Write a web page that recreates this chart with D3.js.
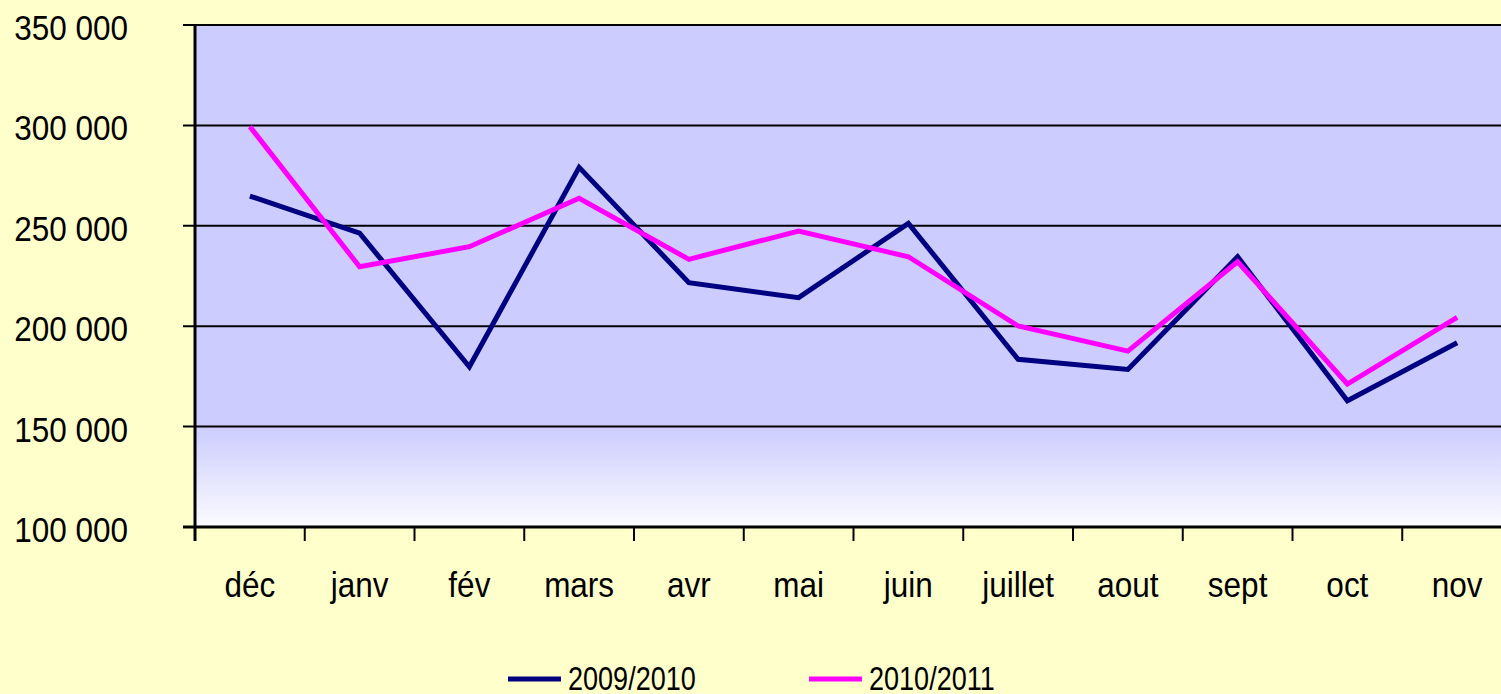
<!DOCTYPE html>
<html>
<head>
<meta charset="utf-8">
<script src="https://cdn.jsdelivr.net/npm/d3@7"></script>
<style>
  html, body { margin: 0; padding: 0; background: #ffffcc; overflow: hidden; }
  svg text { font-family: "Liberation Sans", Arial, sans-serif; fill: #000; }
</style>
</head>
<body>
<div id="chart"></div>
<script>
var months = ["déc", "janv", "fév", "mars", "avr", "mai", "juin", "juillet", "aout", "sept", "oct", "nov"];
var serie2009 = [264800, 246300, 179800, 279100, 221700, 214200, 251200, 183500, 178500, 234600, 162900, 191800];
var serie2010 = [299400, 229600, 239600, 263700, 233300, 247400, 234600, 200100, 187600, 232100, 171200, 204400];
var seriesNames = ["2009/2010", "2010/2011"];
var yTicks = [100000, 150000, 200000, 250000, 300000, 350000];

var width = 1501,
    height = 694;
var plotLeft = 195, plotTop = 25, plotBottom = 527, plotRight = 1512;

var svg = d3.select("#chart").append("svg")
    .attr("width", width)
    .attr("height", height);

var x = d3.scaleBand().domain(months).range([plotLeft, plotRight]);
var y = d3.scaleLinear().domain([100000, 350000]).range([plotBottom, plotTop]);

// degradé du fond
var grad = svg.append("defs").append("linearGradient")
    .attr("id", "fond")
    .attr("x1", 0).attr("y1", 0).attr("x2", 0).attr("y2", 1);
grad.append("stop").attr("offset", 0).attr("stop-color", "#ccccff");
grad.append("stop").attr("offset", 0.8).attr("stop-color", "#ccccff");
grad.append("stop").attr("offset", 1).attr("stop-color", "#fbfbff");

svg.append("rect")
    .attr("x", plotLeft).attr("y", plotTop)
    .attr("width", plotRight - plotLeft).attr("height", plotBottom - plotTop)
    .style("fill", "url(#fond)");

// grille
svg.append("g").selectAll("line")
    .data(yTicks)
    .enter().append("line")
    .attr("x1", plotLeft - 12).attr("x2", plotRight)
    .attr("y1", d => y(d)).attr("y2", d => y(d))
    .style("stroke", "#000")
    .style("stroke-width", 2);

var fmt = d => d3.format(",")(d).replace(/,/g, " ");

svg.append("g").selectAll("text")
    .data(yTicks)
    .enter().append("text")
    .attr("transform", d => "translate(128," + (y(d) + 15) + ") scale(0.9,1)")
    .attr("text-anchor", "end")
    .attr("font-size", 35)
    .text(fmt);

// axes
svg.append("line")
    .attr("x1", plotLeft).attr("x2", plotLeft)
    .attr("y1", plotTop).attr("y2", plotBottom + 14)
    .style("stroke", "#000").style("stroke-width", 3);
svg.append("line")
    .attr("x1", plotLeft - 12).attr("x2", plotRight)
    .attr("y1", plotBottom).attr("y2", plotBottom)
    .style("stroke", "#000").style("stroke-width", 3);

svg.append("g").selectAll("line")
    .data(months.slice(1))
    .enter().append("line")
    .attr("x1", d => x(d)).attr("x2", d => x(d))
    .attr("y1", plotBottom).attr("y2", plotBottom + 14)
    .style("stroke", "#000").style("stroke-width", 2);

svg.append("g").selectAll("text")
    .data(months)
    .enter().append("text")
    .attr("transform", d => "translate(" + (x(d) + x.bandwidth() / 2) + ",597) scale(0.9,1)")
    .attr("text-anchor", "middle")
    .attr("font-size", 35)
    .text(d => d);

// courbes
var line = d3.line()
    .x((d, i) => x(months[i]) + x.bandwidth() / 2)
    .y(d => y(d));

var colors = ["#000080", "#ff00ff"];
[serie2009, serie2010].forEach(function (s, i) {
    svg.append("path")
        .datum(s)
        .attr("d", line)
        .style("fill", "none")
        .style("stroke", colors[i])
        .style("stroke-width", 5)
        .style("stroke-linejoin", "miter");
});

// légende
var legendX = [508, 809];
var leg = svg.append("g").selectAll("g")
    .data(seriesNames)
    .enter().append("g")
    .attr("transform", (d, i) => "translate(" + legendX[i] + ",679)");
leg.append("line")
    .attr("x1", 0).attr("x2", 53)
    .style("stroke", (d, i) => colors[i])
    .style("stroke-width", 5);
leg.append("text")
    .attr("transform", "translate(60,11) scale(0.82,1)")
    .attr("font-size", 33)
    .text(d => d);
</script>
</body>
</html>
